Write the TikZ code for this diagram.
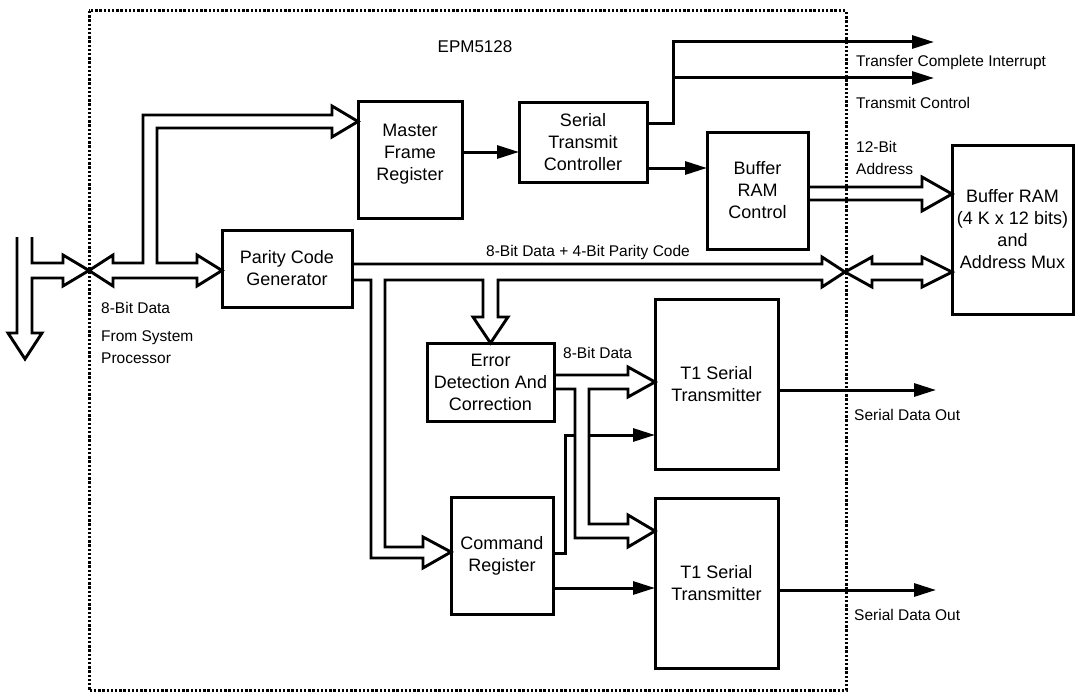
\documentclass[tikz,border=0pt]{standalone}
\usepackage{fontspec}
\setmainfont{Liberation Sans}
\usetikzlibrary{arrows.meta}
\begin{document}
\begin{tikzpicture}[x=1pt,y=-1pt,
  box/.style={draw, line width=3pt, align=center, inner sep=0pt, outer sep=0pt,
    font=\fontsize{18}{22}\selectfont},
  lbl/.style={font=\fontsize{15.5}{22}\selectfont, inner sep=0pt, anchor=west, align=left},
  bus/.style={line width=2.9pt, line join=miter},
  sig/.style={line width=3pt, -{Triangle[length=22pt,width=13pt]}},
  border/.style={line width=3pt, dash pattern=on 2.4pt off 1.8pt}]
\useasboundingbox (0,0) rectangle (1077,693);

% boundary
\draw[border] (89,11) rectangle (846,690.5);
\node[font=\fontsize{17}{20}\selectfont, inner sep=0pt] (title) at (475,47) {EPM5128};

% boxes
\node[box, minimum width=104pt, minimum height=116pt] (mfr) at (410,160) {Master\\Frame\\Register\\[-6pt]};
\node[box, minimum width=128pt, minimum height=79pt] (stc) at (583,142.5) {Serial\\Transmit\\Controller};
\node[box, minimum width=101pt, minimum height=117pt] (brc) at (757.5,190.5) {Buffer\\RAM\\Control};
\node[box, minimum width=121pt, minimum height=169pt] (bram) at (1012.5,229.5) {Buffer RAM\\(4 K x 12 bits)\\and\\Address Mux};
\node[box, minimum width=130pt, minimum height=77pt] (pcg) at (287,268.5) {Parity Code\\Generator};
\node[box, minimum width=127pt, minimum height=78pt] (edc) at (490.5,382) {Error\\Detection And\\Correction};
\node[box, minimum width=123pt, minimum height=170pt] (t1a) at (716.5,384) {T1 Serial\\Transmitter};
\node[box, minimum width=123pt, minimum height=170pt] (t1b) at (716.5,583) {T1 Serial\\Transmitter};
\node[box, minimum width=102pt, minimum height=117pt] (cr) at (502,555.5) {Command\\Register};

% left system bus with down arrow and the crossing into the device
\coordinate (xl) at (89,270.5);
\coordinate (xr) at (845,272);
\draw[bus] (32,237) -- (32,263) -- (63,263) -- (63,255) -- (xl) -- (63,286) -- (63,278)
  -- (32,278) -- (32,333) -- (42,333) -- (25,359) -- (8,333) -- (17,333) -- (17,237);

% bus from crossing to parity generator and master frame register
\draw[bus] (113,263) -- (113,255) -- (xl) -- (113,286) -- (113,278) -- (197,278)
  -- (197,286) -- (pcg.west |- 0,270.5) -- (197,255) -- (197,263) -- (157,263)
  -- (157,128) -- (332,128) -- (332,137) -- (mfr.west |- 0,121.5) -- (332,106)
  -- (332,115) -- (143,115) -- (143,263) -- cycle;

% parity generator data bus
\draw[bus] (pcg.east |- 0,264) -- (822,264) -- (822,257) -- (xr) -- (822,287) -- (822,280)
  -- (498,280) -- (498,317) -- (508,317) -- (edc.north) -- (473,317) -- (483,317)
  -- (483,280) -- (385,280) -- (385,547) -- (423,547) -- (423,537) -- (cr.west |- 0,552)
  -- (423,568) -- (423,558) -- (371,558) -- (371,280) -- (pcg.east |- 0,280);
\draw[bus] (872,264) -- (872,257) -- (xr) -- (872,287) -- (872,280) -- (922,280)
  -- (922,287) -- (bram.west |- 0,272) -- (922,257) -- (922,264) -- cycle;

% buffer RAM control address bus
\draw[bus] (brc.east |- 0,187) -- (922,187) -- (922,177) -- (bram.west |- 0,194)
  -- (922,211) -- (922,200) -- (brc.east |- 0,200);

% error detection outputs to both transmitters
\draw[bus] (edc.east |- 0,375) -- (628,375) -- (628,367) -- (t1a.west |- 0,382) -- (628,397)
  -- (628,389) -- (589,389) -- (589,524) -- (628,524) -- (628,515) -- (t1b.west |- 0,531)
  -- (628,547) -- (628,538) -- (575,538) -- (575,389) -- (edc.east |- 0,389);

% control signals
\draw[sig] (mfr.east |- 0,152) -- (stc.west |- 0,152);
\draw[sig] (stc.east |- 0,168) -- (brc.west |- 0,168);
\coordinate (tci) at (934,42);
\coordinate (tc) at (934,78);
\draw[sig] (stc.east |- 0,123) -- (673,123) -- (673,42) -- (tci);
\draw[sig] (673,78) -- (tc);
\draw[sig] (cr.east |- 0,553) -- (565,553) -- (565,435) -- (575,435) (589,435) -- (t1a.west |- 0,435);
\draw[sig] (cr.east |- 0,588) -- (t1b.west |- 0,588);
\coordinate (sdo1) at (936,390);
\coordinate (sdo2) at (936,590);
\draw[sig] (t1a.east |- 0,390) -- (sdo1);
\draw[sig] (t1b.east |- 0,590) -- (sdo2);

% labels
\node[lbl] (l1) at (856,62) {Transfer Complete Interrupt};
\node[lbl] (l2) at (856,103) {Transmit Control};
\node[lbl] (l3) at (856,158) {12-Bit\\Address};
\node[lbl, anchor=center] (l4) at (588,252) {8-Bit Data + 4-Bit Parity Code};
\node[lbl] (l5) at (563,353) {8-Bit Data};
\node[lbl] (l6) at (101,308) {8-Bit Data};
\node[lbl] (l7) at (101,347) {From System\\Processor};
\node[lbl] (l8) at (854,415) {Serial Data Out};
\node[lbl] (l9) at (854,615) {Serial Data Out};
\end{tikzpicture}
\end{document}
